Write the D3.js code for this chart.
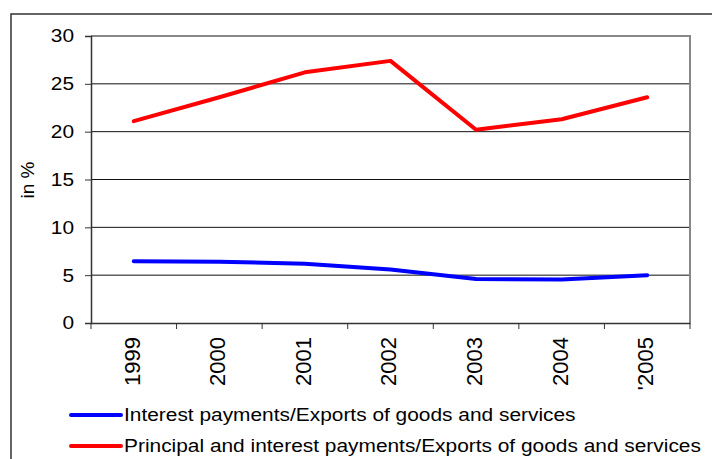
<!DOCTYPE html>
<html><head><meta charset="utf-8">
<script src="https://cdn.jsdelivr.net/npm/d3@7"></script>
<style>body{margin:0;background:#fff;}svg{display:block;font-family:"Liberation Sans",Arial,sans-serif;}</style>
</head><body>
<svg id="c" width="712" height="459"></svg>
<script>
const years = ["1999","2000","2001","2002","2003","2004","'2005"];
const interestRatio = [6.45, 6.4, 6.2, 5.6, 4.6, 4.55, 5.0];
const principalInterestRatio = [21.1, 23.6, 26.2, 27.4, 20.2, 21.3, 23.6];
const yTicks = [0, 5, 10, 15, 20, 25, 30];
const seriesNames = ["Interest payments/Exports of goods and services",
                     "Principal and interest payments/Exports of goods and services"];
const seriesColors = ["#0000ff", "#ff0000"];
const titleText = "Figure 4: Debt service ratios (in %), 1999-2005";

const SX = 1.13; // horizontal stretch of the reference text
const svg = d3.select("#c");
// cut-off title (only descenders visible, as in the reference)
svg.append("text").attr("x", 12).attr("y", -3).attr("font-weight", "bold")
  .attr("font-size", 15).attr("font-family", "Times New Roman, Liberation Serif, serif")
  .text(titleText);
// outer frame
svg.append("rect").attr("x", 11).attr("y", 14).attr("width", 760).attr("height", 500)
  .attr("fill", "none").attr("stroke", "#333").attr("stroke-width", 1.5);

const m = {l: 91, r: 690, t: 36, b: 323};
const x = d3.scaleBand().domain(years).range([m.l, m.r]);
const y = d3.scaleLinear().domain([0, 30]).range([m.b, m.t]);

// grid
svg.append("g").selectAll("line").data(yTicks.filter(d => d > 0)).join("line")
  .attr("x1", m.l).attr("x2", m.r).attr("y1", d => y(d)).attr("y2", d => y(d))
  .attr("stroke", "#111").attr("stroke-width", 1);
// plot border top/right
svg.append("path").attr("d", `M${m.l},${m.t}H${m.r}V${m.b}`)
  .attr("fill", "none").attr("stroke", "#888").attr("stroke-width", 2);

// y axis
const ya = svg.append("g").attr("transform", `translate(${m.l},0)`)
  .call(d3.axisLeft(y).tickValues(yTicks).tickSize(6));
ya.select(".domain").attr("stroke", "#333").attr("stroke-width", 1.5);
ya.selectAll(".tick line").attr("stroke", "#333");
ya.selectAll("text").attr("font-size", 18.5).attr("fill", "#000")
  .attr("font-family", "Liberation Sans, Arial, sans-serif")
  .attr("x", -17 / SX).attr("transform", `scale(${SX},1)`);

// x axis
const xa = svg.append("g").attr("transform", `translate(0,${m.b})`)
  .call(d3.axisBottom(x).tickSize(0));
xa.select(".domain").attr("stroke", "#333").attr("stroke-width", 1.5);
xa.selectAll(".tick text").attr("font-size", 22).attr("fill", "#000")
  .attr("font-family", "Liberation Sans, Arial, sans-serif")
  .attr("transform", "rotate(-90)").attr("text-anchor", "end")
  .attr("x", -14).attr("y", 0).attr("dy", "0.27em");
// boundary ticks
svg.append("g").selectAll("line").data(years.concat(["__end"])).join("line")
  .attr("x1", (d, i) => i < years.length ? x(d) : m.r)
  .attr("x2", (d, i) => i < years.length ? x(d) : m.r)
  .attr("y1", m.b).attr("y2", m.b + 6).attr("stroke", "#333");

// y label
svg.append("text").attr("transform", "translate(34,180) rotate(-90)")
  .attr("text-anchor", "middle").attr("font-size", 19).text("in %");

// lines
const line = d3.line().x((d, i) => x(years[i]) + x.bandwidth() / 2).y(d => y(d));
[interestRatio, principalInterestRatio].forEach((s, k) => {
  svg.append("path").datum(s).attr("d", line).attr("fill", "none")
    .attr("stroke", seriesColors[k]).attr("stroke-width", 4)
    .attr("stroke-linejoin", "round").attr("stroke-linecap", "round");
});

// legend
seriesNames.forEach((n, k) => {
  const ly = 415 + k * 31;
  svg.append("line").attr("x1", 71).attr("x2", 121).attr("y1", ly).attr("y2", ly)
    .attr("stroke", seriesColors[k]).attr("stroke-width", 4).attr("stroke-linecap", "round");
  svg.append("text").attr("x", 124 / SX).attr("y", ly).attr("dy", "0.35em")
    .attr("transform", `scale(${SX},1)`)
    .attr("font-size", 18.5).text(n);
});
</script>
</body></html>
